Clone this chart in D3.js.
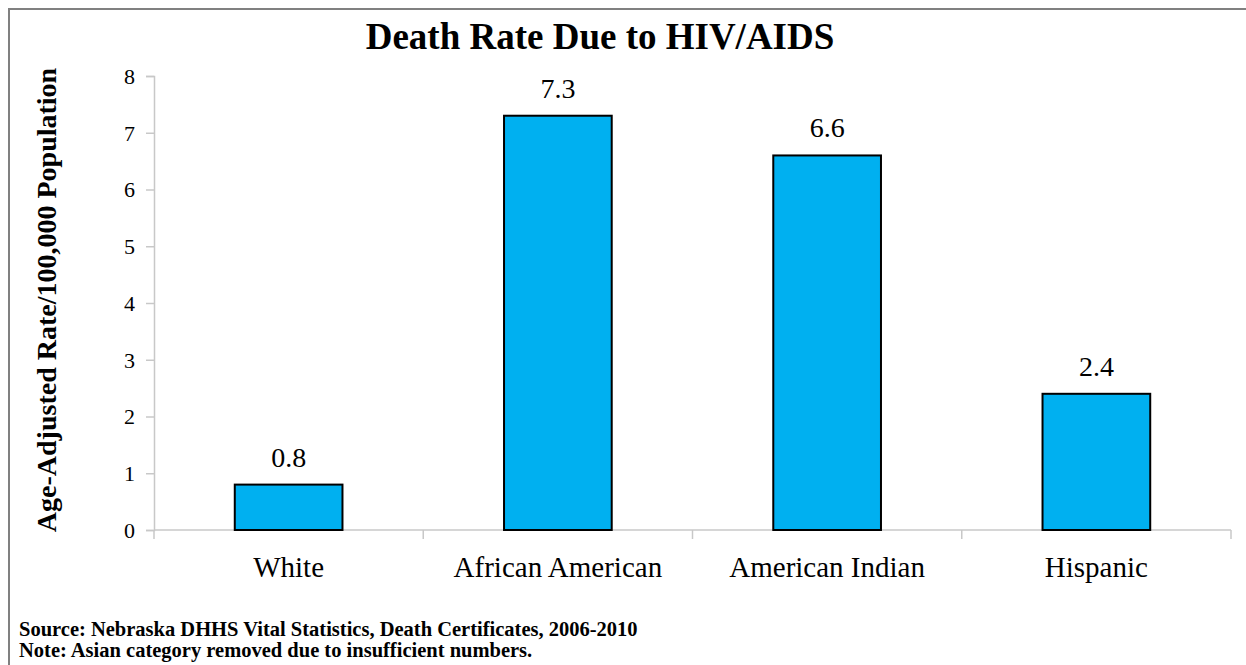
<!DOCTYPE html>
<html>
<head>
<meta charset="utf-8">
<script src="https://cdn.jsdelivr.net/npm/d3@7"></script>
<style>
  html, body { margin: 0; padding: 0; background: #fff; }
  svg { display: block; }
  svg text { font-family: "Liberation Serif", "Times New Roman", Times, serif; fill: #000; }
</style>
</head>
<body>
<svg id="chart" width="1246" height="665"></svg>
<script>
// Age-adjusted HIV/AIDS death rate by race/ethnicity
const categories = ["White", "African American", "American Indian", "Hispanic"];
const rates = [0.8, 7.3, 6.6, 2.4];
const yTicks = [0, 1, 2, 3, 4, 5, 6, 7, 8];
const titleText = "Death Rate Due to HIV/AIDS";
const yTitleText = "Age-Adjusted Rate/100,000 Population";
const notes = [
  "Source: Nebraska DHHS Vital Statistics, Death Certificates, 2006-2010",
  "Note: Asian category removed due to insufficient numbers."
];

const FONT = "Liberation Serif";
const svg = d3.select("#chart");
const W = 1246, H = 665;
const plot = { left: 154, right: 1231, top: 76, bottom: 530 };

// outer frame
svg.append("rect")
  .attr("x", 9).attr("y", 9)
  .attr("width", W + 10).attr("height", H + 10)
  .attr("fill", "none").attr("stroke", "#808080").attr("stroke-width", 2);

const x = d3.scaleBand().domain(categories)
  .range([plot.left, plot.right]).paddingInner(0.6).paddingOuter(0.3);
const y = d3.scaleLinear().domain([0, 8]).range([plot.bottom, plot.top]);

// y axis
const yAxis = svg.append("g").attr("transform", `translate(${plot.left},0)`)
  .call(d3.axisLeft(y).tickValues(yTicks).tickSize(8).tickPadding(11).tickFormat(d3.format("d")));
yAxis.attr("font-family", FONT);
yAxis.select(".domain").attr("stroke", "#c8c8c8").attr("stroke-width", 1.5);
yAxis.selectAll(".tick line").attr("stroke", "#c8c8c8").attr("stroke-width", 1.5);
yAxis.selectAll(".tick text").attr("font-size", 22).attr("fill", "#000")
  .attr("font-family", FONT).attr("dy", "0.34em");

// x axis: baseline and category-boundary ticks
const bounds = d3.range(categories.length + 1)
  .map(i => plot.left + i * (plot.right - plot.left) / categories.length);
svg.append("line")
  .attr("x1", plot.left).attr("x2", plot.right)
  .attr("y1", y(0)).attr("y2", y(0))
  .attr("stroke", "#c8c8c8").attr("stroke-width", 1.5);
svg.selectAll("line.xtick").data(bounds).join("line").attr("class", "xtick")
  .attr("x1", d => d).attr("x2", d => d)
  .attr("y1", y(0)).attr("y2", y(0) + 9)
  .attr("stroke", "#c8c8c8").attr("stroke-width", 1.5);

// category labels
svg.selectAll("text.cat").data(categories).join("text").attr("class", "cat")
  .attr("x", d => x(d) + x.bandwidth() / 2)
  .attr("y", 577)
  .attr("text-anchor", "middle").attr("font-family", FONT).attr("font-size", 29)
  .text(d => d);

// bars
svg.selectAll("rect.bar").data(rates).join("rect").attr("class", "bar")
  .attr("x", (d, i) => x(categories[i]))
  .attr("width", x.bandwidth())
  .attr("y", d => y(d))
  .attr("height", d => y(0) - y(d))
  .attr("fill", "#00b0f0").attr("stroke", "#000").attr("stroke-width", 2);

// value labels
svg.selectAll("text.val").data(rates).join("text").attr("class", "val")
  .attr("x", (d, i) => x(categories[i]) + x.bandwidth() / 2)
  .attr("y", d => y(d) - 18)
  .attr("text-anchor", "middle").attr("font-family", FONT).attr("font-size", 28)
  .text(d => d3.format(".1f")(d));

// title
svg.append("text")
  .attr("x", 600).attr("y", 49)
  .attr("text-anchor", "middle").attr("font-family", FONT)
  .attr("font-size", 37).attr("font-weight", "bold")
  .text(titleText);

// y axis title
svg.append("text")
  .attr("transform", "translate(56,300) rotate(-90)")
  .attr("text-anchor", "middle").attr("font-family", FONT)
  .attr("font-size", 28).attr("font-weight", "bold")
  .text(yTitleText);

// footnotes
svg.selectAll("text.note").data(notes).join("text").attr("class", "note")
  .attr("x", 19).attr("y", (d, i) => 636 + i * 21)
  .attr("font-family", FONT).attr("font-size", 20.5).attr("font-weight", "bold")
  .text(d => d);
</script>
</body>
</html>
